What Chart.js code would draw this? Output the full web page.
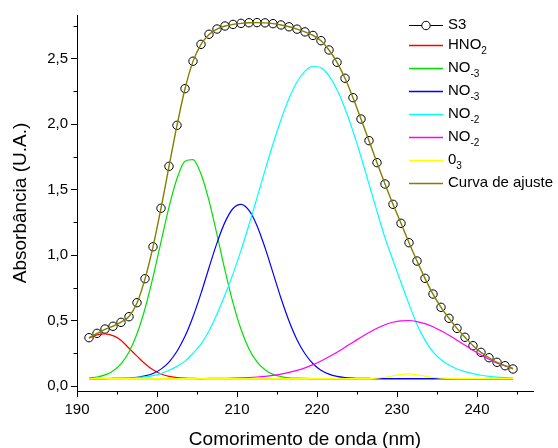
<!DOCTYPE html>
<html><head><meta charset="utf-8">
<script src="https://cdn.jsdelivr.net/npm/chart.js@4.4.0/dist/chart.umd.min.js"></script>
<style>html,body{margin:0;padding:0;background:#fff}#wrap{width:558px;height:448px;position:relative}</style>
</head><body><div id="wrap"><canvas id="c" width="558" height="448"></canvas></div>
<script>
const wavelengths = [191.5,192.5,193.5,194.5,195.5,196.5,197.5,198.5,199.5,200.5,201.5,202.5,203.5,204.5,205.5,206.5,207.5,208.5,209.5,210.5,211.5,212.5,213.5,214.5,215.5,216.5,217.5,218.5,219.5,220.5,221.5,222.5,223.5,224.5,225.5,226.5,227.5,228.5,229.5,230.5,231.5,232.5,233.5,234.5,235.5,236.5,237.5,238.5,239.5,240.5,241.5,242.5,243.5,244.5];
const s3 = [0.369,0.402,0.435,0.456,0.486,0.529,0.636,0.819,1.063,1.357,1.677,1.990,2.270,2.479,2.608,2.685,2.725,2.748,2.760,2.768,2.773,2.774,2.772,2.766,2.756,2.742,2.724,2.703,2.676,2.636,2.565,2.471,2.349,2.201,2.038,1.873,1.705,1.542,1.387,1.242,1.094,0.954,0.822,0.702,0.601,0.517,0.440,0.372,0.308,0.257,0.216,0.181,0.155,0.130];
const hno2 = [0.366,0.390,0.398,0.385,0.350,0.288,0.228,0.170,0.124,0.092,0.073,0.064,0.060,0.058,0.057,0.057,0.057,0.057,0.057,0.057,0.057,0.057,0.057,0.057,0.057,0.057,0.057,0.057,0.057,0.057,0.057,0.057,0.057,0.057,0.057,0.057,0.057,0.057,0.057,0.057,0.057,0.057,0.057,0.057,0.057,0.057,0.057,0.057,0.057,0.057,0.057,0.057,0.057,0.057];
const no3a = [0.062,0.069,0.085,0.115,0.169,0.260,0.399,0.590,0.831,1.101,1.366,1.584,1.716,1.728,1.618,1.415,1.156,0.883,0.635,0.433,0.283,0.184,0.124,0.089,0.072,0.063,0.060,0.058,0.057,0.057,0.057,0.057,0.057,0.057,0.057,0.057,0.057,0.057,0.057,0.057,0.057,0.057,0.057,0.057,0.057,0.057,0.057,0.057,0.057,0.057,0.057,0.057,0.057,0.057];
const no3b = [0.057,0.057,0.057,0.058,0.059,0.061,0.066,0.077,0.096,0.129,0.183,0.265,0.379,0.529,0.707,0.903,1.093,1.251,1.355,1.387,1.340,1.224,1.056,0.864,0.670,0.497,0.354,0.246,0.170,0.121,0.091,0.074,0.065,0.061,0.059,0.058,0.057,0.057,0.057,0.057,0.057,0.057,0.057,0.057,0.057,0.057,0.057,0.057,0.057,0.057,0.057,0.057,0.057,0.057];
const no2a = [0.057,0.057,0.058,0.059,0.060,0.062,0.065,0.070,0.080,0.095,0.120,0.150,0.190,0.250,0.320,0.420,0.550,0.696,0.856,1.035,1.231,1.436,1.646,1.847,2.033,2.195,2.321,2.404,2.441,2.429,2.368,2.262,2.119,1.944,1.749,1.541,1.333,1.131,0.960,0.790,0.625,0.470,0.350,0.260,0.200,0.160,0.130,0.110,0.094,0.082,0.074,0.068,0.064,0.061];
const no2b = [0.057,0.057,0.057,0.057,0.057,0.057,0.057,0.057,0.057,0.057,0.057,0.057,0.057,0.057,0.057,0.058,0.058,0.059,0.060,0.062,0.065,0.069,0.074,0.081,0.091,0.104,0.120,0.139,0.163,0.191,0.223,0.258,0.296,0.334,0.373,0.409,0.441,0.468,0.487,0.498,0.500,0.492,0.476,0.453,0.422,0.388,0.350,0.311,0.273,0.237,0.204,0.175,0.154,0.133];
const o3 = [0.057,0.057,0.057,0.057,0.057,0.057,0.057,0.057,0.057,0.057,0.057,0.057,0.057,0.057,0.057,0.057,0.057,0.057,0.057,0.057,0.057,0.057,0.057,0.057,0.057,0.057,0.057,0.057,0.057,0.057,0.057,0.057,0.057,0.057,0.057,0.057,0.060,0.067,0.077,0.088,0.092,0.086,0.075,0.065,0.060,0.058,0.057,0.057,0.057,0.057,0.057,0.057,0.057,0.057];
const fit = [0.367,0.401,0.433,0.457,0.487,0.531,0.634,0.818,1.062,1.357,1.676,1.989,2.269,2.478,2.607,2.684,2.725,2.748,2.760,2.768,2.773,2.774,2.772,2.766,2.756,2.742,2.724,2.703,2.676,2.636,2.565,2.471,2.349,2.201,2.038,1.873,1.705,1.542,1.387,1.242,1.094,0.954,0.822,0.702,0.601,0.517,0.440,0.372,0.308,0.257,0.216,0.181,0.155,0.132];
const xTicks = [190,200,210,220,230,240];
const xMinorTicks = [195,205,215,225,235,245];
const yTicks = [0,0.5,1.0,1.5,2.0,2.5];
const yMinorTicks = [0.25,0.75,1.25,1.75,2.25,2.75];
const seriesLabels = ['S3','HNO₂','NO₋₃','NO₋₃','NO₋₂','NO₋₂','0₃','Curva de ajuste'];
const legendParts = [['S3',''],['HNO','2'],['NO','-3'],['NO','-3'],['NO','-2'],['NO','-2'],['0','3'],['Curva de ajuste','']];
const colors = ['#000000','#ff0000','#00e000','#0000ff','#00ffff','#ff00ff','#ffff00','#808000'];

const FONT = "'Liberation Sans', Arial, sans-serif";
const pts = arr => arr.map((v, i) => ({x: wavelengths[i], y: v}));
const comps = [hno2, no3a, no3b, no2a, no2b, o3];

const datasets = [{
  label: seriesLabels[0], data: pts(s3), showLine: false,
  pointRadius: 4.2, pointBorderWidth: 1, pointBorderColor: '#000', pointBackgroundColor: 'rgba(0,0,0,0)',
  borderColor: '#000', order: 8
}];
comps.forEach((arr, k) => datasets.push({
  label: seriesLabels[k + 1], data: pts(arr), showLine: true, pointRadius: 0,
  borderColor: colors[k + 1], borderWidth: 1.2, cubicInterpolationMode: 'monotone', order: 7 - k
}));
datasets.push({
  label: seriesLabels[7], data: pts(fit), showLine: true, pointRadius: 0,
  borderColor: colors[7], borderWidth: 1.4, cubicInterpolationMode: 'monotone', order: 0
});

const extras = {
  id: 'extras',
  afterDraw(chart) {
    const ctx = chart.ctx, xs = chart.scales.x, ys = chart.scales.y, ca = chart.chartArea;
    ctx.save();
    ctx.strokeStyle = '#000'; ctx.lineWidth = 1;
    xMinorTicks.forEach(v => {
      const px = Math.round(xs.getPixelForValue(v)) + 0.5;
      ctx.beginPath(); ctx.moveTo(px, ca.bottom); ctx.lineTo(px, ca.bottom + 3.5); ctx.stroke();
    });
    yMinorTicks.forEach(v => {
      const py = Math.round(ys.getPixelForValue(v)) + 0.5;
      ctx.beginPath(); ctx.moveTo(ca.left, py); ctx.lineTo(ca.left - 3.5, py); ctx.stroke();
    });
    // legend
    const rows = [25, 45, 68, 91, 114, 137, 160, 183];
    const x0 = 409, x1 = 443, tx = 448;
    legendParts.forEach((p, i) => {
      const y = rows[i];
      ctx.strokeStyle = colors[i]; ctx.lineWidth = i === 0 ? 1 : 1.3;
      ctx.beginPath(); ctx.moveTo(x0, y + 0.5); ctx.lineTo(x1, y + 0.5); ctx.stroke();
      if (i === 0) {
        ctx.fillStyle = '#fff';
        ctx.beginPath(); ctx.arc((x0 + x1) / 2, y + 0.5, 4.2, 0, Math.PI * 2); ctx.fill(); ctx.stroke();
      }
      ctx.fillStyle = '#000'; ctx.textBaseline = 'middle'; ctx.textAlign = 'left';
      ctx.font = '15px ' + FONT;
      ctx.fillText(p[0], tx, y);
      if (p[1]) {
        const w = ctx.measureText(p[0]).width;
        ctx.font = '10px ' + FONT;
        ctx.fillText(p[1], tx + w, y + 6);
      }
    });
    ctx.restore();
  }
};

new Chart(document.getElementById('c'), {
  type: 'scatter',
  data: { datasets },
  options: {
    responsive: false, animation: false, devicePixelRatio: 1,
    layout: { padding: { top: 15, right: 25, left: 0, bottom: 0 } },
    plugins: { legend: { display: false }, tooltip: { enabled: false } },
    scales: {
      x: {
        type: 'linear', min: 190, max: 247,
        afterFit: s => { s.height = 57; },
        afterBuildTicks: s => { s.ticks = xTicks.map(v => ({value: v})); },
        ticks: { color: '#000', font: { size: 15, family: FONT }, padding: 4, includeBounds: false, maxRotation: 0 },
        grid: { drawOnChartArea: false, tickLength: 6, tickColor: '#000' },
        border: { color: '#000', width: 1 },
        title: { display: true, text: 'Comorimento de onda (nm)', color: '#000', font: { size: 19, family: FONT, lineHeight: 1 }, padding: { top: 0, bottom: -1 } }
      },
      y: {
        type: 'linear', min: -0.038, max: 2.832,
        afterFit: s => { s.width = 77; },
        afterBuildTicks: s => { s.ticks = yTicks.map(v => ({value: v})); },
        ticks: { color: '#000', font: { size: 15, family: FONT }, padding: 3, includeBounds: false,
          callback: v => v.toFixed(1).replace('.', ',') },
        grid: { drawOnChartArea: false, tickLength: 6, tickColor: '#000' },
        border: { color: '#000', width: 1 },
        title: { display: true, text: 'Absorbância (U.A.)', color: '#000', font: { size: 19, family: FONT, lineHeight: 1 }, padding: { top: 11, bottom: 0 } }
      }
    }
  },
  plugins: [extras]
});
</script>
</body></html>
